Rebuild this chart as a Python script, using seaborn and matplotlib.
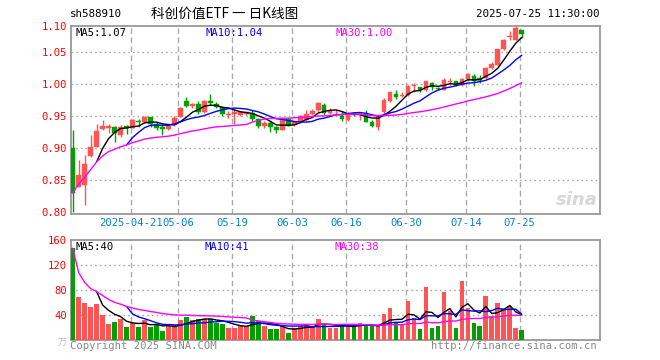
import numpy as np
import pandas as pd
import matplotlib
matplotlib.use('Agg')
import matplotlib.pyplot as plt
import seaborn as sns

# daily K-line data, 2025-04-07 .. 2025-07-25 (76 trading days)
opens = [0.900, 0.840, 0.842, 0.887, 0.902, 0.930, 0.932, 0.933, 0.920, 0.934,
         0.932, 0.942, 0.940, 0.949, 0.938, 0.933, 0.930, 0.936, 0.949, 0.973,
         0.965, 0.969, 0.956, 0.974, 0.969, 0.964, 0.951, 0.953, 0.952, 0.953,
         0.955, 0.946, 0.935, 0.939, 0.933, 0.929, 0.946, 0.936, 0.940, 0.944,
         0.953, 0.960, 0.968, 0.955, 0.956, 0.950, 0.944, 0.953, 0.953, 0.953,
         0.940, 0.933, 0.957, 0.973, 0.985, 0.981, 0.983, 0.997, 0.995, 0.991,
         1.001, 0.994, 0.991, 1.003, 1.004, 0.998, 1.008, 1.013, 1.009, 1.009,
         1.025, 1.030, 1.054, 1.073, 1.069, 1.084]
highs = [0.928, 0.881, 0.889, 0.920, 0.938, 0.944, 0.938, 0.935, 0.936, 0.936,
         0.945, 0.946, 0.950, 0.949, 0.941, 0.937, 0.937, 0.950, 0.964, 0.979,
         0.971, 0.973, 0.975, 0.984, 0.972, 0.966, 0.958, 0.961, 0.957, 0.958,
         0.960, 0.947, 0.942, 0.942, 0.935, 0.946, 0.947, 0.942, 0.951, 0.959,
         0.961, 0.972, 0.970, 0.963, 0.960, 0.958, 0.956, 0.956, 0.956, 0.960,
         0.944, 0.954, 0.978, 0.988, 0.991, 0.988, 0.998, 1.001, 0.996, 1.005,
         1.003, 0.996, 1.009, 1.009, 1.005, 1.010, 1.017, 1.015, 1.014, 1.027,
         1.034, 1.055, 1.070, 1.082, 1.090, 1.084]
lows = [0.801, 0.839, 0.812, 0.886, 0.901, 0.928, 0.924, 0.909, 0.918, 0.922,
        0.931, 0.933, 0.939, 0.933, 0.928, 0.921, 0.929, 0.935, 0.948, 0.964,
        0.963, 0.954, 0.955, 0.967, 0.962, 0.950, 0.947, 0.938, 0.950, 0.951,
        0.942, 0.932, 0.931, 0.925, 0.924, 0.928, 0.934, 0.934, 0.939, 0.942,
        0.952, 0.956, 0.951, 0.953, 0.954, 0.943, 0.943, 0.950, 0.944, 0.940,
        0.933, 0.928, 0.954, 0.972, 0.977, 0.979, 0.982, 0.988, 0.987, 0.989,
        0.991, 0.990, 0.990, 0.999, 0.997, 0.997, 1.005, 0.997, 1.002, 1.008,
        1.024, 1.029, 1.053, 1.069, 1.068, 1.072]
closes = [0.830, 0.858, 0.876, 0.902, 0.927, 0.934, 0.935, 0.924, 0.933, 0.931,
          0.944, 0.940, 0.949, 0.938, 0.932, 0.930, 0.935, 0.947, 0.963, 0.966,
          0.969, 0.956, 0.973, 0.971, 0.964, 0.953, 0.953, 0.957, 0.957, 0.957,
          0.946, 0.935, 0.939, 0.933, 0.928, 0.944, 0.935, 0.941, 0.950, 0.954,
          0.958, 0.970, 0.955, 0.958, 0.957, 0.945, 0.952, 0.952, 0.955, 0.941,
          0.935, 0.950, 0.975, 0.987, 0.979, 0.983, 0.997, 0.999, 0.991, 1.004,
          0.996, 0.992, 1.006, 1.005, 0.999, 1.008, 1.015, 1.005, 1.007, 1.025,
          1.032, 1.054, 1.069, 1.075, 1.088, 1.078]
# volume, 万手
volumes = [147, 69, 60, 53, 58, 40, 26, 29, 34, 21,
           27, 21, 32, 21, 24, 15, 23, 24, 32, 37,
           32, 33, 34, 33, 28, 26, 20, 19, 22, 22,
           39, 30, 23, 17, 17, 22, 12, 19, 22, 26,
           23, 33, 24, 19, 19, 22, 26, 22, 27, 22,
           22, 23, 41, 51, 27, 24, 63, 36, 17, 85,
           20, 22, 77, 47, 19, 95, 52, 27, 23, 71,
           39, 59, 52, 55, 20, 16]

tick_pos = [10, 18, 27, 37, 46, 56, 66, 75]
tick_labels = ['2025-04-21', '05-06', '05-19', '06-03', '06-16', '06-30', '07-14', '07-25']
price_ticks = [0.80, 0.85, 0.90, 0.95, 1.00, 1.05]
price_labels = ['0.80', '0.85', '0.90', '0.95', '1.00', '1.05', '1.10']
vol_ticks = [40, 80, 120, 160]
vol_labels = ['40', '80', '120', '160']

RED = '#ff5454'
GREEN = '#00a000'
GRID = '#aaaaaa'
FRAME = '#999999'
DATE_BLUE = '#0a80d0'

df = pd.DataFrame({'open': opens, 'high': highs, 'low': lows, 'close': closes, 'vol': volumes})
df['idx'] = np.arange(len(df))
df['up'] = df['close'] >= df['open']
df['color'] = np.where(df['up'], RED, GREEN)
df['ma5'] = df['close'].rolling(5).mean()
df['ma10'] = df['close'].rolling(10).mean()
df['ma30'] = df['close'].rolling(30, min_periods=1).mean()
df['vma5'] = df['vol'].rolling(5).mean()
df['vma10'] = df['vol'].rolling(10).mean()
df['vma30'] = df['vol'].rolling(30, min_periods=1).mean()

sns.set_style('white')
plt.rcParams['font.family'] = ['DejaVu Sans Mono', 'Noto Sans CJK SC']
plt.rcParams['lines.scale_dashes'] = False

W, H = 660, 360
fig = plt.figure(figsize=(W / 100, H / 100), dpi=100)
fig.patch.set_facecolor('white')
ax1 = fig.add_axes([71 / W, 1 - 213.5 / H, 529 / W, 187.5 / H])
ax2 = fig.add_axes([71 / W, 1 - 340 / H, 529 / W, 100 / H])

xlim = (-0.28, 88.07)
grid_x = [p - 0.33 for p in tick_pos]
x = df['idx'].values

# ---- price panel ----
body_lo = np.minimum(df['open'], df['close'])
body_h = np.maximum(np.abs(df['close'] - df['open']), 0.0004)
ax1.vlines(x, df['low'], df['high'], colors=df['color'], linewidth=1.0, zorder=3)
ax1.bar(x, body_h, bottom=body_lo, width=0.78, color=df['color'], edgecolor=df['color'],
        linewidth=0.3, zorder=4)
sns.lineplot(data=df, x='idx', y='ma5', color='black', linewidth=1.0, ax=ax1, zorder=5)
sns.lineplot(data=df, x='idx', y='ma10', color='#0000ff', linewidth=1.0, ax=ax1, zorder=5)
sns.lineplot(data=df, x='idx', y='ma30', color='#ff00ff', linewidth=1.0, ax=ax1, zorder=5)

ylim1 = (0.798, 1.0905)
ax1.set_xlim(*xlim)
ax1.set_ylim(*ylim1)
for yv in price_ticks[1:]:
    ax1.axhline(yv, color=GRID, linewidth=1.0, linestyle=(0, (1.2, 2.2)), zorder=1)
for gx in grid_x:
    ax1.axvline(gx, color=GRID, linewidth=1.0, linestyle=(0, (4, 2.5)), zorder=1)
ax1.set_yticks(price_ticks + [ylim1[1]])
ax1.set_yticklabels(price_labels, color='#ff0000', fontsize=7.6)
ax1.set_xticks(grid_x)
ax1.set_xticklabels(tick_labels, color=DATE_BLUE, fontsize=7.6)
ax1.tick_params(length=0, pad=3)
ax1.set_xlabel('')
ax1.set_ylabel('')

ty = 1 - 7.5 / 187.5
ax1.text(4 / 529, ty, 'MA5:1.07', transform=ax1.transAxes, color='black',
         fontsize=7.6, va='center', ha='left')
ax1.text((205.5 - 71) / 529, ty, 'MA10:1.04', transform=ax1.transAxes,
         color='#0000ff', fontsize=7.6, va='center', ha='left')
ax1.text((336 - 71) / 529, ty, 'MA30:1.00', transform=ax1.transAxes,
         color='#ff00ff', fontsize=7.6, va='center', ha='left')
ax1.text(0.995, 0.07, 'sina', transform=ax1.transAxes, color='#d8d8d8', fontsize=13,
         fontstyle='italic', fontweight='bold', family='DejaVu Sans', ha='right', va='center')

# ---- volume panel ----
ax2.bar(x, df['vol'], width=0.78, color=df['color'], linewidth=0, zorder=3)
sns.lineplot(data=df, x='idx', y='vma5', color='black', linewidth=1.0, ax=ax2, zorder=5)
sns.lineplot(data=df, x='idx', y='vma10', color='#0000ff', linewidth=1.0, ax=ax2, zorder=5)
sns.lineplot(data=df, x='idx', y='vma30', color='#ff00ff', linewidth=1.0, ax=ax2, zorder=5)
ax2.set_xlim(*xlim)
ax2.set_ylim(0, 160)
for yv in vol_ticks[:-1]:
    ax2.axhline(yv, color=GRID, linewidth=1.0, linestyle=(0, (1.2, 2.2)), zorder=1)
for gx in grid_x:
    ax2.axvline(gx, color=GRID, linewidth=1.0, linestyle=(0, (4, 2.5)), zorder=1)
ax2.set_yticks(vol_ticks)
ax2.set_yticklabels(vol_labels, color='#ff0000', fontsize=7.6)
ax2.set_xticks([])
ax2.tick_params(length=0, pad=3)
ax2.set_xlabel('')
ax2.set_ylabel('')

vy = 1 - 6.7 / 100
ax2.text(4 / 529, vy, 'MA5:40', transform=ax2.transAxes, color='black',
         fontsize=7.6, va='center', ha='left')
ax2.text((204.5 - 71) / 529, vy, 'MA10:41', transform=ax2.transAxes,
         color='#0000ff', fontsize=7.6, va='center', ha='left')
ax2.text((334.5 - 71) / 529, vy, 'MA30:38', transform=ax2.transAxes,
         color='#ff00ff', fontsize=7.6, va='center', ha='left')

for ax in (ax1, ax2):
    for sp in ax.spines.values():
        sp.set_color(FRAME)
        sp.set_linewidth(1.3)
        sp.set_visible(True)

# ---- header / footer ----
fig.text(70 / W, 1 - 14 / H, 'sh588910', fontsize=7.8, color='black', va='center', ha='left')
fig.text(225 / W, 1 - 14 / H, '科创价值ETF 一 日K线图', fontsize=9.8, color='black',
         va='center', ha='center', family=['Noto Sans CJK SC', 'DejaVu Sans'])
fig.text(599 / W, 1 - 14 / H, '2025-07-25 11:30:00', fontsize=7.8, color='black',
         va='center', ha='right')
fig.text(70 / W, 1 - 346 / H, 'Copyright 2025 SINA.COM', fontsize=7.6, color='#888888',
         va='center', ha='left')
fig.text(597 / W, 1 - 346 / H, 'http://finance.sina.com.cn', fontsize=7.6, color='#888888',
         va='center', ha='right')
fig.text(62 / W, 1 - 343 / H, '万', fontsize=6.5, color='#bbbbbb', va='center', ha='center',
         family=['Noto Sans CJK SC', 'DejaVu Sans'])

fig.savefig('out.png', dpi=100, facecolor='white')
